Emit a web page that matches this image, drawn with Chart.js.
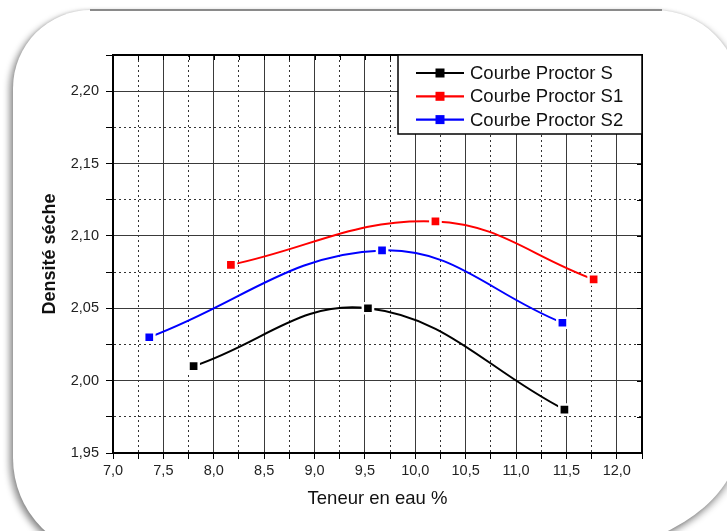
<!DOCTYPE html>
<html>
<head>
<meta charset="utf-8">
<script src="https://cdn.jsdelivr.net/npm/chart.js@4/dist/chart.umd.min.js"></script>
<style>
  html, body { margin: 0; padding: 0; background: #fff; width: 727px; height: 531px; overflow: hidden; }
  #card { position: absolute; left: 13px; top: 10px; width: 727px; height: 547px;
          border-radius: 78px 85px 190px 99px / 78px 85px 120px 99px; background: #fff;
          box-shadow: -4px 3px 6px rgba(0,0,0,0.38), 3px 3px 6px rgba(0,0,0,0.22), 0 0 3px rgba(0,0,0,0.1); }
  #topline { position: absolute; left: 90px; top: 9px; width: 572px; height: 2px; background: #8a8a8a; }
  #wrap { position: absolute; left: 0; top: 0; width: 727px; height: 531px; }
</style>
</head>
<body>
<div id="card"></div>
<div id="topline"></div>
<div id="wrap"><canvas id="c" width="727" height="531"></canvas></div>
<script>
// ---- data ----
const seriesNames = ['Courbe Proctor S', 'Courbe Proctor S1', 'Courbe Proctor S2'];
const seriesColors = ['#000000', '#ff0000', '#0000ff'];
const sX  = [7.80, 9.53, 11.48];
const sY  = [2.01, 2.05, 1.98];
const s1X = [8.17, 10.20, 11.77];
const s1Y = [2.08, 2.11, 2.07];
const s2X = [7.36, 9.67, 11.46];
const s2Y = [2.03, 2.09, 2.04];
const xTitle = 'Teneur en eau %';
const yTitle = 'Densité séche';

const toPts = (xs, ys) => xs.map((x, i) => ({x: x, y: ys[i]}));
const allX = [sX, s1X, s2X], allY = [sY, s1Y, s2Y];

const datasets = seriesNames.map((n, i) => ({
  label: n,
  data: toPts(allX[i], allY[i]),
  borderColor: seriesColors[i],
  backgroundColor: seriesColors[i],
  borderWidth: 2,
  tension: 0.4,
  pointStyle: 'rect',
  pointRadius: 7.2,
  pointBorderColor: '#ffffff',
  pointBorderWidth: 2.5,
  pointBackgroundColor: seriesColors[i],
  pointHoverRadius: 7.2
}));

const isMajor = (v, step) => Math.abs(Math.round(v / step) * step - v) < 1e-6;
const FONT = "'Liberation Sans', Arial, sans-serif";

const framePlugin = {
  id: 'frame',
  afterDraw(chart) {
    const ctx = chart.ctx, a = chart.chartArea;
    const xs = chart.scales.x, ys = chart.scales.y;
    ctx.save();
    // inward ticks on top and right axes
    ctx.strokeStyle = '#000'; ctx.lineWidth = 1;
    ctx.beginPath();
    xs.ticks.forEach(t => {
      const px = Math.round(xs.getPixelForValue(t.value)) + 0.5;
      ctx.moveTo(px, a.top); ctx.lineTo(px, a.top + 5);
    });
    ys.ticks.forEach(t => {
      const py = Math.round(ys.getPixelForValue(t.value)) + 0.5;
      ctx.moveTo(a.right, py); ctx.lineTo(a.right - 5, py);
    });
    ctx.stroke();
    // frame
    ctx.lineWidth = 2; ctx.strokeStyle = '#000';
    ctx.strokeRect(a.left, a.top, a.right - a.left, a.bottom - a.top);
    // legend
    const w = 244, h = 79;
    const lx = a.right - w, ly = a.top;
    ctx.fillStyle = '#fff';
    ctx.fillRect(lx, ly, w, h);
    ctx.lineWidth = 1.5; ctx.strokeStyle = '#000';
    ctx.strokeRect(lx, ly, w, h);
    ctx.font = '18.5px ' + FONT;
    ctx.textBaseline = 'middle';
    chart.data.datasets.forEach((d, i) => {
      const cy = ly + 18 + i * 23.3;
      ctx.strokeStyle = d.borderColor; ctx.lineWidth = 2.2;
      ctx.beginPath(); ctx.moveTo(lx + 18, cy); ctx.lineTo(lx + 66, cy); ctx.stroke();
      ctx.fillStyle = d.borderColor;
      ctx.fillRect(lx + 42 - 4.5, cy - 4.5, 9, 9);
      ctx.fillStyle = '#111';
      ctx.fillText(d.label, lx + 72, cy + 1);
    });
    ctx.restore();
  }
};

new Chart(document.getElementById('c'), {
  type: 'line',
  data: { datasets: datasets },
  options: {
    responsive: false,
    animation: false,
    events: [],
    layout: { padding: { left: 0, top: 55, right: 85, bottom: 0 } },
    plugins: { legend: { display: false }, tooltip: { enabled: false } },
    scales: {
      x: {
        type: 'linear', min: 7, max: 12.25,
        afterFit: s => { s.height = 78; },
        ticks: {
          stepSize: 0.25, autoSkip: false, maxRotation: 0, padding: 3,
          color: '#222', font: { family: FONT, size: 14.5 },
          callback: v => isMajor(v, 0.5) ? v.toFixed(1).replace('.', ',') : ''
        },
        grid: {
          color: c => c.tick && isMajor(c.tick.value, 0.5) ? '#3a3a3a' : '#333',
          lineWidth: 1,
          tickLength: 6, tickColor: '#000', tickBorderDash: [],
        },
        border: { display: true, color: '#000', width: 2,
          dash: c => (c.tick && !isMajor(c.tick.value, 0.5)) ? [2, 3] : [] },
        title: { display: true, text: xTitle, color: '#111',
          font: { family: FONT, size: 18.5 }, padding: { top: 0, bottom: 21 } }
      },
      y: {
        type: 'linear', min: 1.95, max: 2.225,
        afterFit: s => { s.width = 113; },
        ticks: {
          stepSize: 0.025, autoSkip: false, padding: 7,
          color: '#222', font: { family: FONT, size: 14.5 },
          callback: v => isMajor(v, 0.05) ? v.toFixed(2).replace('.', ',') : ''
        },
        grid: {
          color: c => c.tick && isMajor(c.tick.value, 0.05) ? '#3a3a3a' : '#333',
          lineWidth: 1,
          tickLength: 7, tickColor: '#000', tickBorderDash: [],
        },
        border: { display: true, color: '#000', width: 2,
          dash: c => (c.tick && !isMajor(c.tick.value, 0.05)) ? [2, 3] : [] },
        title: { display: true, text: yTitle, color: '#111',
          font: { family: FONT, size: 18, weight: 'bold' }, padding: { top: 39, bottom: 0 } }
      }
    }
  },
  plugins: [framePlugin]
});
</script>
</body>
</html>
